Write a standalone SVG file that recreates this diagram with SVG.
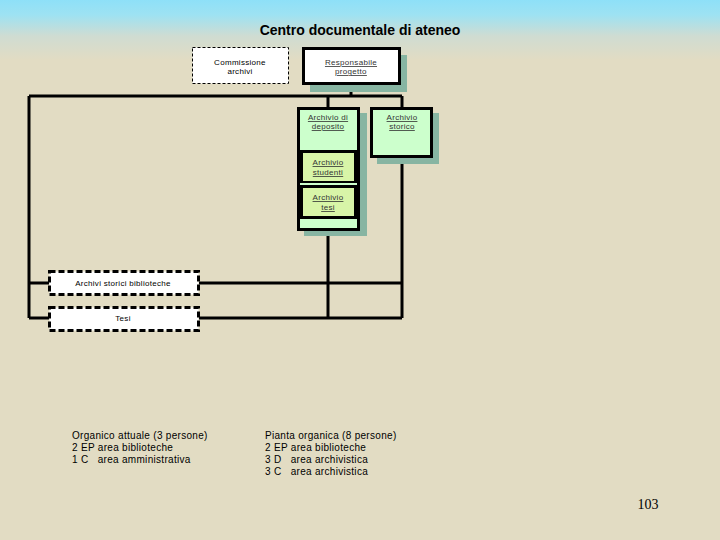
<svg xmlns="http://www.w3.org/2000/svg" width="720" height="540" viewBox="0 0 720 540">
<defs>
<linearGradient id="sky" x1="0" y1="0" x2="0" y2="1">
<stop offset="0" stop-color="#8ee0f8"/>
<stop offset="0.25" stop-color="#9ee2f2"/>
<stop offset="0.6" stop-color="#cfdcd2"/>
<stop offset="1" stop-color="#e2dcc3"/>
</linearGradient>
<style>
.conn{stroke:#000;stroke-width:3;fill:none}
.shadow{fill:#87b5a2}
.solid{stroke:#000;stroke-width:3}
.lbl{font-family:"Liberation Sans",Arial,sans-serif;font-size:8px;fill:#333;text-anchor:middle;text-decoration:underline;letter-spacing:0.3px}
.plain{font-family:"Liberation Sans",Arial,sans-serif;font-size:8px;fill:#000;text-anchor:middle;letter-spacing:0.3px}
.note{font-family:"Liberation Sans",Arial,sans-serif;font-size:10px;fill:#000;white-space:pre;letter-spacing:0.3px}
</style>
</defs>
<rect x="0" y="0" width="720" height="540" fill="#e2dcc3"/>
<rect x="0" y="0" width="720" height="60" fill="url(#sky)"/>
<text x="360" y="35" font-family="Liberation Sans,Arial,sans-serif" font-size="14" font-weight="bold" text-anchor="middle" fill="#000">Centro documentale di ateneo</text>

<g id="connectors">
<path class="conn" d="M351 84 V96 M29 96 H402 M328 96 V107 M402 96 V107"/>
<path class="conn" d="M29 96 V318 M29 283 H49 M29 318 H49"/>
<path class="conn" d="M199 283 H402 M199 318 H402 M328 230 V318 M402 157 V318"/>
</g>

<g id="commissione">
<rect x="192.5" y="47.5" width="96" height="36" fill="#fff" stroke="#000" stroke-width="1" stroke-dasharray="3 2"/>
<text class="plain" x="240" y="65">Commissione</text>
<text class="plain" x="240" y="74">archivi</text>
</g>

<g id="responsabile">
<rect class="shadow" x="310" y="55" width="97" height="37"/>
<rect class="solid" x="303.5" y="48.5" width="96" height="35" fill="#fff"/>
<text class="lbl" x="351" y="65">Responsabile</text>
<text class="lbl" x="351" y="74">progetto</text>
</g>

<g id="deposito">
<rect class="shadow" x="304" y="113" width="63" height="123"/>
<rect class="solid" x="298.5" y="108.5" width="60" height="121" fill="#ccffcc"/>
<rect x="298" y="150" width="61" height="69" fill="#000"/>
<text class="lbl" x="328" y="120">Archivio di</text>
<text class="lbl" x="328" y="129">deposito</text>
</g>

<g id="studenti">
<rect x="303" y="153" width="51" height="28" fill="#d8f5a8"/>
<rect x="300" y="183" width="57" height="2" fill="#ccffcc"/>
<text class="lbl" x="328" y="165">Archivio</text>
<text class="lbl" x="328" y="175">studenti</text>
</g>

<g id="tesi-archivio">
<rect x="303" y="188" width="51" height="28" fill="#d8f5a8"/>
<text class="lbl" x="328" y="200">Archivio</text>
<text class="lbl" x="328" y="210">tesi</text>
</g>

<g id="storico">
<rect class="shadow" x="377" y="113" width="62" height="51"/>
<rect class="solid" x="371.5" y="108.5" width="60" height="48" fill="#ccffcc"/>
<text class="lbl" x="402" y="120">Archivio</text>
<text class="lbl" x="402" y="129">storico</text>
</g>

<g id="biblioteche">
<rect x="49.5" y="271.5" width="149" height="23" fill="#fff" stroke="#000" stroke-width="3" stroke-dasharray="6 3"/>
<text class="plain" x="123" y="286">Archivi storici biblioteche</text>
</g>

<g id="tesi">
<rect x="49.5" y="307.5" width="149" height="23" fill="#fff" stroke="#000" stroke-width="3" stroke-dasharray="6 3"/>
<text class="plain" x="123" y="321">Tesi</text>
</g>

<g id="notes">
<text class="note" x="72" y="439">Organico attuale (3 persone)</text>
<text class="note" x="72" y="451">2 EP area biblioteche</text>
<text class="note" x="72" y="463" xml:space="preserve">1 C   area amministrativa</text>
<text class="note" x="265" y="439">Pianta organica (8 persone)</text>
<text class="note" x="265" y="451">2 EP area biblioteche</text>
<text class="note" x="265" y="463" xml:space="preserve">3 D   area archivistica</text>
<text class="note" x="265" y="475" xml:space="preserve">3 C   area archivistica</text>
<text x="648" y="509" font-family="Liberation Serif,Times New Roman,serif" font-size="14" text-anchor="middle" fill="#000">103</text>
</g>
</svg>
